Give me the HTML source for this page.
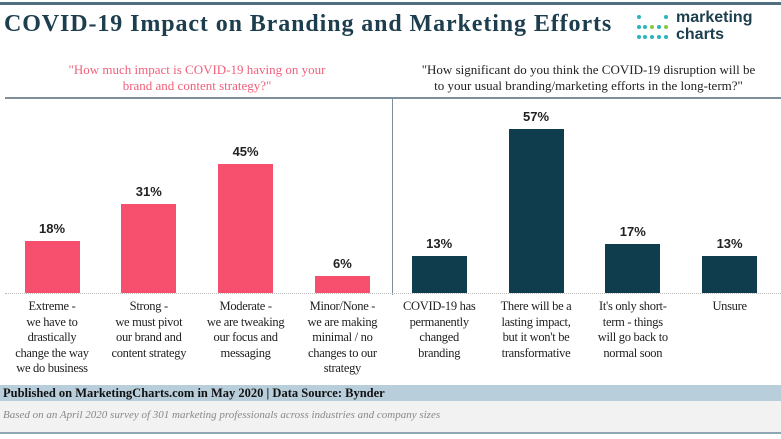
<!DOCTYPE html>
<html><head><meta charset="utf-8"><style>
body{margin:0;width:781px;height:439px;background:#fff;overflow:hidden;position:relative;font-family:"Liberation Serif","DejaVu Serif",serif}
.abs{position:absolute}
.lbl{position:absolute;width:96px;text-align:center;font-size:12.5px;line-height:15.5px;color:#222;top:299px;letter-spacing:-0.3px}
.val{position:absolute;width:60px;text-align:center;font:bold 13px "Liberation Sans",sans-serif;color:#222}
</style></head><body>
<div class="abs" style="left:0;top:2px;width:781px;height:3px;background:#4f6f7f"></div>
<div class="abs" style="left:4px;top:11px;font-size:24px;font-weight:bold;color:#1d3e4e;letter-spacing:0.9px;white-space:nowrap">COVID-19 Impact on Branding and Marketing Efforts</div>
<div class="abs" style="left:636px;top:13px;width:140px;height:36px">
<svg width="40" height="36" class="abs" style="left:0;top:0">
<g fill="#2bb3c0"><circle cx="3" cy="4" r="2"/><circle cx="30" cy="4" r="2"/>
<circle cx="3" cy="14" r="2"/><circle cx="9" cy="14" r="2"/><circle cx="16" cy="14" r="2" fill="#8cc63f"/><circle cx="23" cy="14" r="2"/><circle cx="30" cy="14" r="2" fill="#8cc63f"/>
<circle cx="3" cy="24" r="2"/><circle cx="9" cy="24" r="2"/><circle cx="16" cy="24" r="2"/><circle cx="23" cy="24" r="2"/><circle cx="30" cy="24" r="2"/></g></svg>
<div class="abs" style="left:40px;top:-4px;font:bold 16px 'Liberation Sans',sans-serif;color:#1d3e4e;line-height:17px">marketing<br>charts</div>
</div>
<div class="abs" style="left:62px;top:62px;width:270px;text-align:center;font-size:13px;line-height:16px;color:#f0607a">"How much impact is COVID-19 having on your<br>brand and content strategy?"</div>
<div class="abs" style="left:396px;top:62px;width:385px;text-align:center;font-size:13px;line-height:16px;color:#222">"How significant do you think the COVID-19 disruption will be<br>to your usual branding/marketing efforts in the long-term?"</div>
<div class="abs" style="left:5px;top:97px;width:776px;height:2px;background:#7e8f99"></div>
<div class="abs" style="left:392px;top:99px;width:1px;height:196px;background:#7e8f99"></div>
<div class="abs" style="left:5px;top:293px;width:776px;border-top:1px dotted #bbb"></div>
<div id="chart"></div>
<div class="abs" style="left:0;top:385px;width:781px;height:16px;background:#b9cedb;font:bold 12.5px 'Liberation Serif',serif;color:#111;line-height:16px;padding-left:3px">Published on MarketingCharts.com in May 2020 | Data Source: Bynder</div>
<div class="abs" style="left:0;top:401px;width:781px;height:31px;background:#f2f2f2;font:italic 11px 'Liberation Serif',serif;color:#888;line-height:29px;padding-left:3px">Based on an April 2020 survey of 301 marketing professionals across industries and company sizes</div>
<div class="abs" style="left:0;top:432px;width:781px;height:2px;background:#8fa6b3"></div>
<script>
const leftCats=["Extreme -<br>we have to<br>drastically<br>change the way<br>we do business","Strong -<br>we must pivot<br>our brand and<br>content strategy","Moderate -<br>we are tweaking<br>our focus and<br>messaging","Minor/None -<br>we are making<br>minimal / no<br>changes to our<br>strategy"];
const leftVals=[18,31,45,6];
const rightCats=["COVID-19 has<br>permanently<br>changed<br>branding","There will be a<br>lasting impact,<br>but it won't be<br>transformative","It's only short-<br>term - things<br>will go back to<br>normal soon","Unsure"];
const rightVals=[13,57,17,13];
const base=293, pxPer=2.87, bw=55;
function y(v){return base-v*pxPer;}
function xCenter(i){return 52+i*96.8;}
const c=document.getElementById('chart');
function draw(cats,vals,off,color,side){
 vals.forEach((v,i)=>{
  const cx=xCenter(i+off);
  const b=document.createElement('div');
  b.className='abs';
  
  
  b.style.cssText=`left:${cx-bw/2}px;top:${y(v)}px;width:${bw}px;height:${v*pxPer}px;background:${color}`;
  c.appendChild(b);
  const t=document.createElement('div');
  t.className='val';
  
  
  t.style.left=(cx-30)+'px';t.style.top=(y(v)-20)+'px';t.textContent=v+'%';
  c.appendChild(t);
  const l=document.createElement('div');
  l.className='lbl';
  
  
  l.style.left=(cx-48)+'px';l.innerHTML=cats[i];
  c.appendChild(l);
 });
}
draw(leftCats,leftVals,0,'#f7506f','left');
draw(rightCats,rightVals,4,'#0f3d4d','right');
</script>
</body></html>
